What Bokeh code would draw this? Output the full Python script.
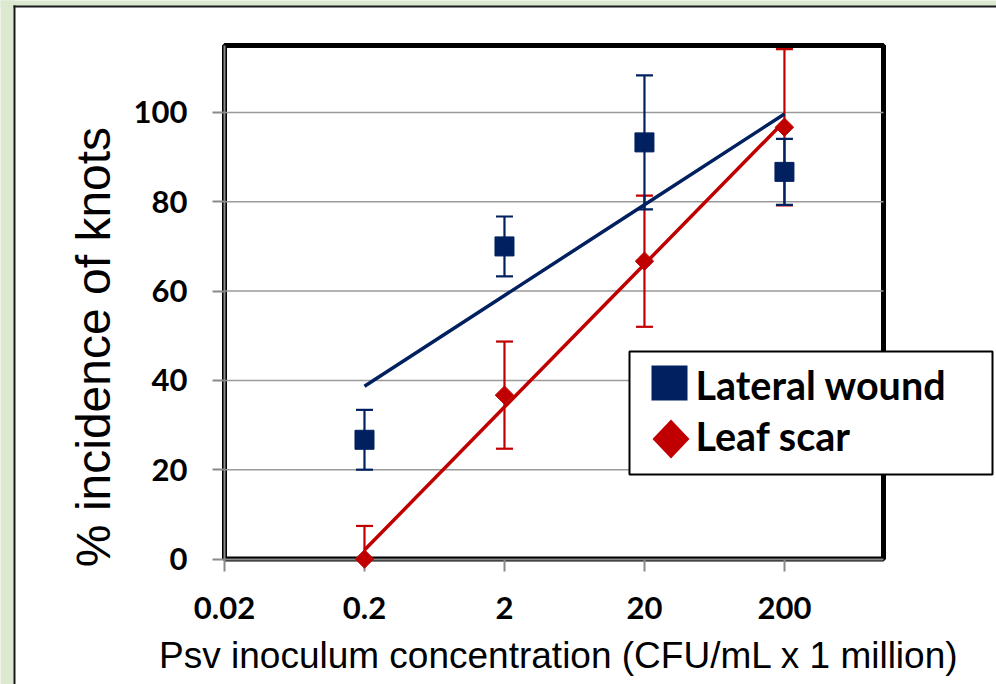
import numpy as np
from bokeh.plotting import figure
from bokeh.models import ColumnDataSource, FixedTicker, Label, BoxAnnotation, PolyAnnotation
from bokeh.embed import file_html
from bokeh.resources import INLINE

# ---------------- data ----------------
concentrations = [0.2, 2, 20, 200]
x_tick_values = [0.02, 0.2, 2, 20, 200]
x_tick_labels = ["0.02", "0.2", "2", "20", "200"]
y_tick_values = [0, 20, 40, 60, 80, 100]
series_names = ["Lateral wound", "Leaf scar"]
lateral_wound = [26.7, 70.0, 93.3, 86.7]
lateral_wound_err = [6.7, 6.7, 15.0, 7.4]
leaf_scar = [0.0, 36.7, 66.7, 96.7]
leaf_scar_err = [7.4, 12.0, 14.7, 17.5]
x_title = "Psv inoculum concentration (CFU/mL x 1 million)"
y_title = "% incidence of knots"

# axis limits of the plot area
X_MIN, X_MAX = 0.02, 1020
Y_MIN, Y_MAX = 0, 115

# ---------------- style / layout ----------------
NAVY = "#002060"
RED = "#C00000"
GREEN_BG = "#DCE8CF"
GRID = "#9A9A9A"
AXIS_GRAY = "#8A8A8A"
BOLD_FONT = "Lato"
PLAIN_FONT = "Liberation Sans"

W, H = 996, 684
AREA_LEFT, AREA_RIGHT, AREA_TOP, AREA_BOTTOM = 224, 883, 45, 558.5  # plot area in canvas px

ppd = (AREA_RIGHT - AREA_LEFT) / np.log10(X_MAX / X_MIN)
ppu = (AREA_BOTTOM - AREA_TOP) / (Y_MAX - Y_MIN)
x_range = (X_MIN * 10 ** (-AREA_LEFT / ppd), X_MIN * 10 ** ((W - AREA_LEFT) / ppd))
y_range = (Y_MIN - (H - AREA_BOTTOM) / ppu, Y_MAX + AREA_TOP / ppu)


def sx(x):
    return x


def sy(y):
    return H - y


BASELINE_FIX = 0.43  # em fraction: Bokeh's alphabetic placement correction

p = figure(width=W, height=H, x_axis_type="log", x_range=x_range, y_range=y_range,
           output_backend="svg", toolbar_location=None, title=None,
           min_border=0, min_border_left=0, min_border_right=0, min_border_top=0,
           min_border_bottom=0)
p.border_fill_color = "white"
p.background_fill_color = "white"
p.outline_line_color = None
p.outline_line_alpha = 0
p.xgrid.visible = False
p.ygrid.visible = False

# axes placed at the plot-area edges
p.xaxis.fixed_location = Y_MIN
p.yaxis.fixed_location = X_MIN
p.xaxis.bounds = (X_MIN, X_MAX)
p.yaxis.bounds = (Y_MIN, Y_MAX)
p.xaxis.ticker = FixedTicker(ticks=x_tick_values, minor_ticks=[])
p.xaxis.major_label_overrides = dict(zip(x_tick_values, x_tick_labels))
p.yaxis.ticker = FixedTicker(ticks=y_tick_values, minor_ticks=[])
for ax in (p.xaxis[0], p.yaxis[0]):
    ax.major_label_text_font = BOLD_FONT
    ax.major_label_text_font_style = "bold"
    ax.major_label_text_font_size = "31px"
    ax.major_label_text_color = "black"
    ax.major_tick_out = 12
    ax.major_tick_in = 0
    ax.minor_tick_out = 0
    ax.minor_tick_in = 0
    ax.major_tick_line_color = AXIS_GRAY
    ax.major_tick_line_width = 2
    ax.axis_line_color = AXIS_GRAY
    ax.axis_line_width = 2
p.yaxis.major_label_standoff = 25
p.xaxis.major_label_standoff = 26

# horizontal gridlines inside the plot area
grid_y = [t for t in y_tick_values if t > Y_MIN]
p.segment(x0=[X_MIN] * len(grid_y), x1=[X_MAX] * len(grid_y), y0=grid_y, y1=grid_y,
          line_color=GRID, line_width=1.5)

# plot-area border
p.add_layout(BoxAnnotation(left=X_MIN, right=X_MAX, bottom=Y_MIN, top=Y_MAX, fill_alpha=0,
                           line_color="black", line_width=5, line_alpha=1, level="underlay"))


def add_errorbars(values, errs, color):
    v = np.array(values, dtype=float)
    e = np.array(errs, dtype=float)
    lo = np.maximum(v - e, Y_MIN)  # clipped at the axis minimum
    src = ColumnDataSource(dict(x=concentrations, y=v, lo=lo, hi=v + e))
    p.segment(x0="x", y0="lo", x1="x", y1="hi", source=src, line_color=color, line_width=2.2)
    p.scatter(x="x", y="hi", source=src, marker="dash", size=17, line_color=color, line_width=2.2)
    p.scatter(x="x", y="lo", source=src, marker="dash", size=17, line_color=color, line_width=2.2)
    return src


src_leaf = add_errorbars(leaf_scar, leaf_scar_err, RED)
src_lat = add_errorbars(lateral_wound, lateral_wound_err, NAVY)

# logarithmic trendlines fitted to the data
for vals, color in ((lateral_wound, NAVY), (leaf_scar, RED)):
    lx = np.log10(concentrations)
    coef = np.polyfit(lx, vals, 1)
    p.line(concentrations, np.polyval(coef, lx), line_color=color, line_width=3.5)

sq = p.scatter(x="x", y="y", source=src_lat, marker="square", size=19,
               fill_color=NAVY, line_color=NAVY, line_width=1)
dm = p.scatter(x="x", y="y", source=src_leaf, marker="square", size=13, angle=np.pi / 4,
               fill_color=RED, line_color=RED, line_width=1)
sq.level = "overlay"
dm.level = "overlay"

# titles
p.add_layout(Label(x=sx(558.5), y=sy(670.7) + BASELINE_FIX * 37, x_units="screen", y_units="screen",
                   text=x_title, text_align="center", text_baseline="alphabetic",
                   text_font=PLAIN_FONT, text_font_size="37px", text_color="black"))
p.add_layout(Label(x=sx(114) - BASELINE_FIX * 48, y=sy(346.5), x_units="screen", y_units="screen",
                   text=y_title, angle=np.pi / 2, text_align="center", text_baseline="alphabetic",
                   text_font=PLAIN_FONT, text_font_size="48px", text_color="black"))

# legend (drawn with annotations so that the swatches match the reference size)
p.add_layout(BoxAnnotation(left=sx(629), right=sx(992), top=sy(351), bottom=sy(474),
                           left_units="screen", right_units="screen", top_units="screen",
                           bottom_units="screen", fill_color="white", fill_alpha=1,
                           line_color="black", line_width=2, line_alpha=1))
p.add_layout(BoxAnnotation(left=sx(651), right=sx(687), top=sy(365), bottom=sy(400),
                           left_units="screen", right_units="screen", top_units="screen",
                           bottom_units="screen", fill_color=NAVY, fill_alpha=1, line_alpha=0))
p.add_layout(PolyAnnotation(xs=[sx(670.5), sx(689), sx(670.5), sx(652)],
                            ys=[sy(419), sy(438.5), sy(458), sy(438.5)],
                            xs_units="screen", ys_units="screen", fill_color=RED, fill_alpha=1,
                            line_alpha=0))
LEG_FS = 39.5
for name, base in zip(series_names, (400.7, 451.7)):
    p.add_layout(Label(x=sx(695), y=sy(base) + BASELINE_FIX * LEG_FS, x_units="screen",
                       y_units="screen", text=name, text_align="left", text_baseline="alphabetic",
                       text_font=BOLD_FONT, text_font_style="bold", text_font_size=f"{LEG_FS}px",
                       text_color="black"))


# slide background strip and panel border lines
def screen_box(l, r, t, b, color):
    p.add_layout(BoxAnnotation(left=sx(l), right=sx(r), top=sy(t), bottom=sy(b),
                               left_units="screen", right_units="screen", top_units="screen",
                               bottom_units="screen", fill_color=color, fill_alpha=1,
                               line_color=None, line_alpha=0, line_width=0))


screen_box(-10, 14, -10, H + 40, GREEN_BG)
screen_box(-10, W + 40, -10, 6, GREEN_BG)
screen_box(13, 15, 5, H + 40, "#1A1A1A")
screen_box(13, W + 40, 5, 7, "#1A1A1A")

open("out.html", "w").write(file_html(p, INLINE))
